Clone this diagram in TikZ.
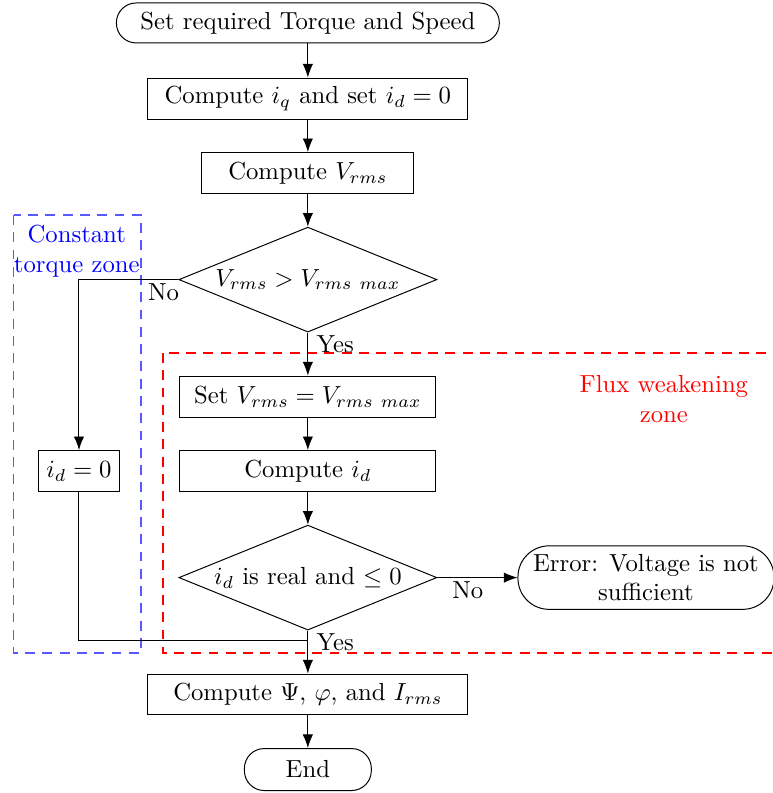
\documentclass[tikz,border=0pt]{standalone}
\usepackage{amsmath,amssymb}
\usepackage{tikz}
\usetikzlibrary{arrows.meta,positioning,shapes.geometric}
\tikzset{
  block/.style={draw, minimum height=16.6pt, align=center},
  term/.style={block, rounded corners=8pt},
  decision/.style={draw, diamond, aspect=2.46, inner sep=0pt, minimum width=104.5pt, minimum height=42.5pt, align=center},
  arrow/.style={-{Latex[length=5.5pt,width=4.2pt]}},
  zone/.style={line width=0.5pt, dash pattern=on 4pt off 3pt}
}

\begin{document}
\begin{tikzpicture}[node distance=13.2pt]
  \useasboundingbox (-124.7pt,9.3pt) rectangle (188.3pt,-311.9pt);
  \node[term, minimum width=155.1pt, minimum height=16.2pt] (start) {Set required Torque and Speed};
  \node[block, below=13.8pt of start, minimum width=129.6pt] (iq) {Compute $i_q$ and set $i_d = 0$};
  \node[block, below=of iq, minimum width=85.9pt] (vrms) {Compute $V_{rms}$};
  \node[decision, below=of vrms] (chkv) {$V_{rms} > V_{rms\ max}$};
  \node[block, below=17.4pt of chkv, minimum width=103.7pt] (setv) {Set $V_{rms} = V_{rms\ max}$};
  \node[block, below=of setv, minimum width=103.7pt] (idc) {Compute $i_d$};
  \node[decision, below=of idc] (chkid) {$i_d$ is real and $\leq 0$};
  \node[block, below=17.4pt of chkid, minimum width=129.6pt] (psi) {Compute $\Psi$, $\varphi$, and $I_{rms}$};
  \node[term, below=of psi, minimum width=51.4pt, minimum height=17pt] (end) {End};
  \node[block, left=8.4mm of idc] (idz) {$i_d = 0$};
  \node[term, right=11.4mm of chkid, minimum width=103.7pt, minimum height=25.5pt, rounded corners=12.6pt, inner xsep=1pt] (err) {Error: Voltage is not\\sufficient};
  \coordinate[below=4pt of chkid.south] (join);

  \draw[zone, blue!65] (-119.1pt,-77.8pt) rectangle (-67.6pt,-255.2pt);
  \draw[zone, red] (-58.7pt,-133.7pt) rectangle (215pt,-255.2pt);
  \node[blue, align=center] (ctz) at (-93.6pt,-92.5pt) {Constant\\torque zone};
  \node[red, align=center] (fwz) at (144.2pt,-152.3pt) {Flux weakening\\zone};

  \draw[arrow] (start) -- (iq);
  \draw[arrow] (iq) -- (vrms);
  \draw[arrow] (vrms) -- (chkv);
  \draw[arrow] (chkv) -- node[pos=0.27, right]{Yes} (setv);
  \draw[arrow] (chkv.west) -| node[pos=0.075, below, inner sep=1.5pt]{No} (idz.north);
  \draw[arrow] (setv) -- (idc);
  \draw[arrow] (idc) -- (chkid);
  \draw[arrow] (chkid) -- node[pos=0.38, below, inner sep=1.5pt]{No} (err);
  \draw[arrow] (chkid) -- node[pos=0.27, right]{Yes} (psi);
  \draw (idz) |- (join);
  \draw[arrow] (psi) -- (end);
\end{tikzpicture}
\end{document}
